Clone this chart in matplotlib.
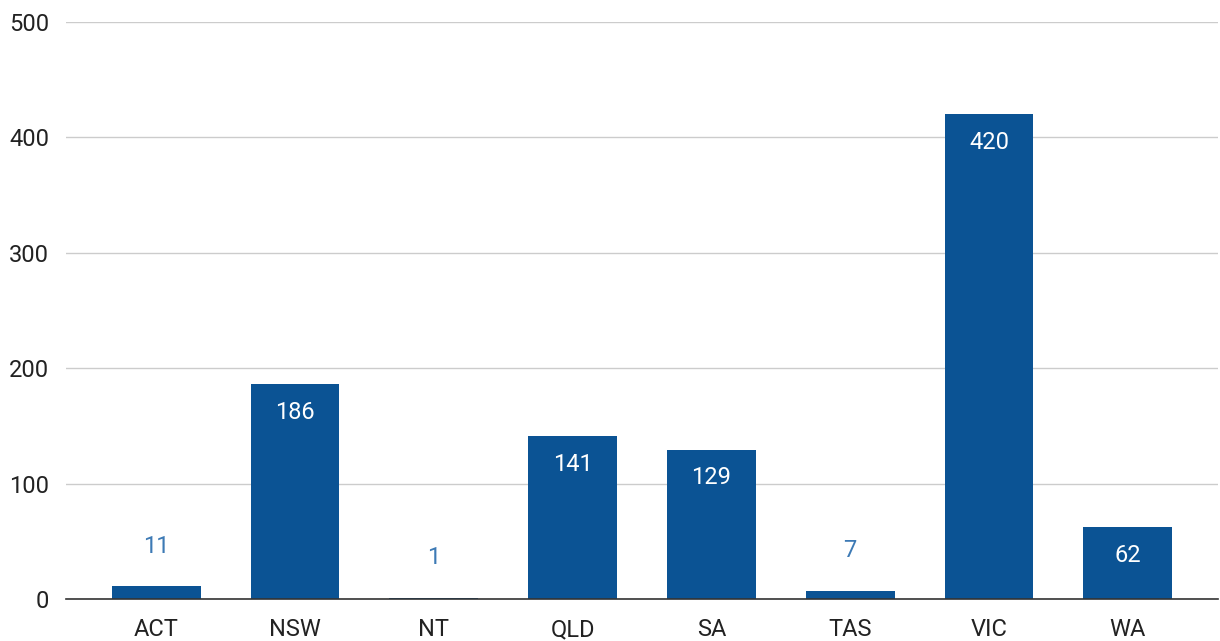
import numpy as np
import matplotlib.pyplot as plt

plt.rcParams['font.family'] = ['Roboto', 'DejaVu Sans']

states = ["ACT", "NSW", "NT", "QLD", "SA", "TAS", "VIC", "WA"]
counts = [11, 186, 1, 141, 129, 7, 420, 62]
yticks = [0, 100, 200, 300, 400, 500]

bar_color = "#0b5394"
out_label_color = "#3d7ab5"


def main():
    fig = plt.figure(figsize=(12.2, 6.41), dpi=100)
    ax = fig.add_axes([66 / 1220, 42 / 641, 1152 / 1220, 577 / 641])

    x = np.arange(len(states))
    ax.bar(x, counts, width=0.64, color=bar_color, zorder=3)

    # value labels: inside the bar if tall enough, otherwise above it
    for xi, v in zip(x, counts):
        if v > 30:
            ax.annotate(str(v), (xi, v), xytext=(0, -20), textcoords="offset points",
                        ha="center", va="center", color="white", fontsize=17, zorder=4)
        else:
            ax.annotate(str(v), (xi, v), xytext=(0, 29), textcoords="offset points",
                        ha="center", va="center", color=out_label_color, fontsize=17, zorder=4)

    ax.set_xlim(-0.65, 7.65)
    ax.set_ylim(0, 500)
    ax.set_yticks(yticks)
    ax.set_xticks(x)
    ax.set_xticklabels(states)
    ax.tick_params(axis="both", length=0, labelsize=17, labelcolor="#222222")
    ax.tick_params(axis="x", pad=14)
    ax.tick_params(axis="y", pad=12)

    ax.grid(axis="y", color="#cccccc", linewidth=1, zorder=0)
    for side in ["top", "right", "left"]:
        ax.spines[side].set_visible(False)
    ax.spines["bottom"].set_color("#333333")
    ax.spines["bottom"].set_linewidth(1.2)
    ax.spines["bottom"].set_zorder(5)

    fig.savefig("out.png", dpi=100)


if __name__ == "__main__":
    main()
